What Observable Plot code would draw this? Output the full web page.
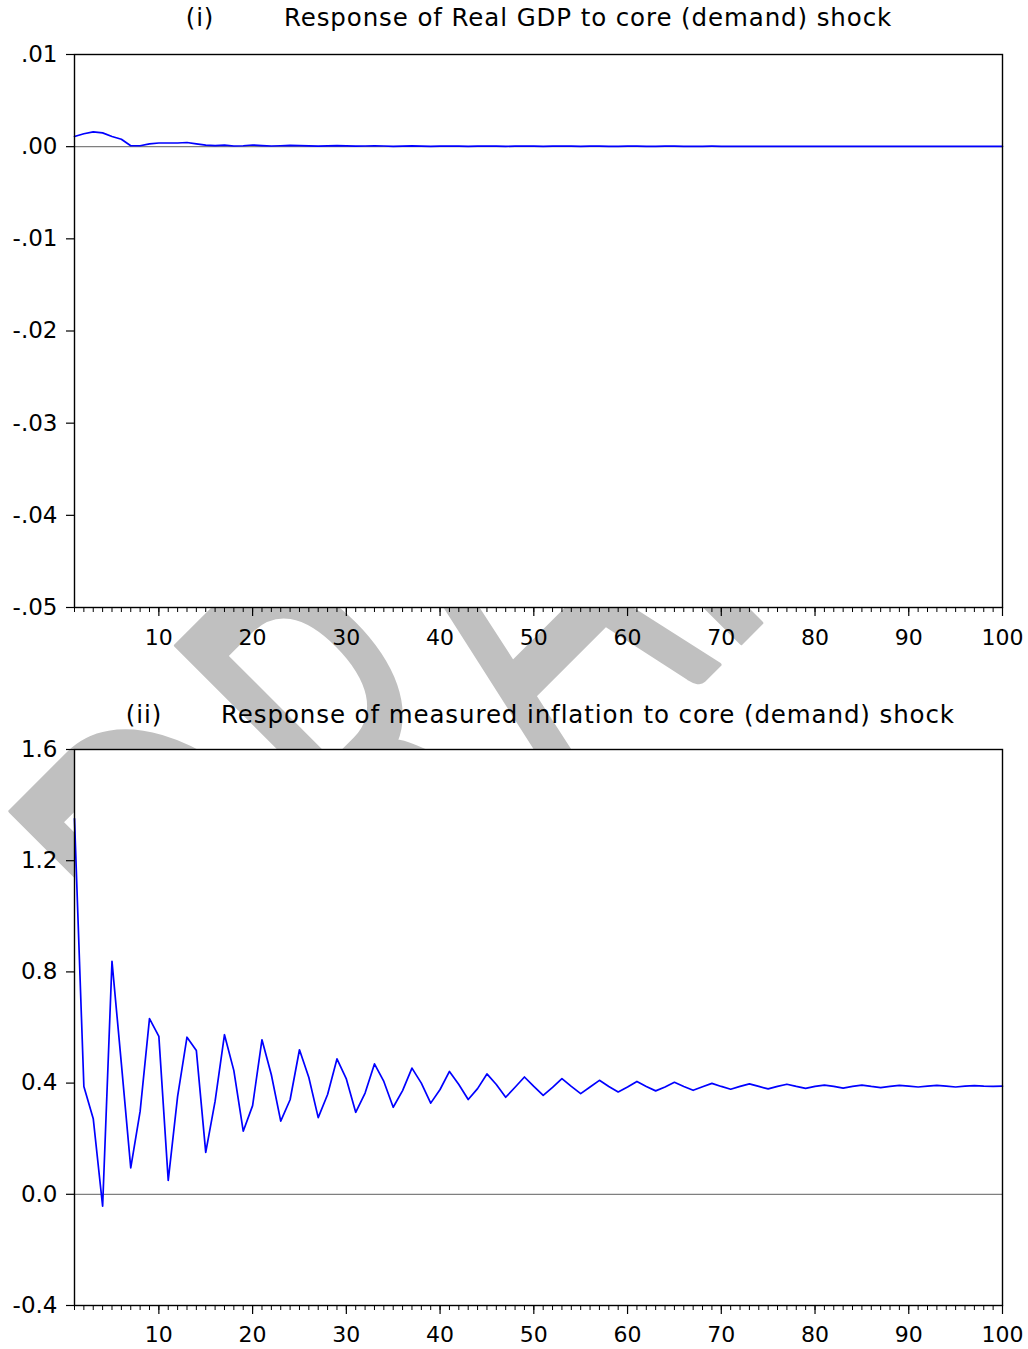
<!DOCTYPE html>
<html>
<head>
<meta charset="utf-8">
<script src="https://cdn.jsdelivr.net/npm/d3@7"></script>
<script src="https://cdn.jsdelivr.net/npm/@observablehq/plot@0.6"></script>
<style>
  html, body { margin: 0; padding: 0; background: #fff; }
  #page { position: relative; width: 1028px; height: 1349px; overflow: hidden;
          font-family: "DejaVu Sans", sans-serif; color: #000; }
  #watermark { position: absolute; left: 0; top: 0; z-index: 0; }
  .panel { position: absolute; left: 0; width: 1028px; z-index: 1; }
  .panel svg { display: block; }
  .title { position: absolute; z-index: 2; font-size: 24.5px; letter-spacing: 0.9px; white-space: nowrap;
           transform: translate(-50%, -50%); line-height: 1; }
</style>
</head>
<body>
<div id="page"></div>
<script>
// Horizon of the impulse responses (periods 1..100)
const periods = d3.range(1, 101);

// Response of real GDP to a core (demand) shock
const gdpResponse = [
  0.0011, 0.0014, 0.0016, 0.0015, 0.0011, 0.0008, 0.0001, 0.0001, 0.0003, 0.0004,
  0.0004, 0.0004, 0.00045, 0.0003, 0.00017, 0.00012, 0.00017, 0.00007, 0.00010, 0.00018,
  0.00012, 0.00007, 0.00010, 0.00015, 0.00012, 0.00008, 0.00006, 0.00009, 0.00011, 0.00008,
  0.00005, 0.00007, 0.00009, 0.00007, 0.00004, 0.00006, 0.00008, 0.00006, 0.00004, 0.00005,
  0.00007, 0.00005, 0.00004, 0.00005, 0.00006, 0.00005, 0.00004, 0.00005, 0.00006, 0.00005,
  0.00004, 0.00005, 0.00005, 0.00005, 0.00004, 0.00005, 0.00005, 0.00004, 0.00004, 0.00005,
  0.00005, 0.00004, 0.00004, 0.00005, 0.00005, 0.00004, 0.00004, 0.00004, 0.00005, 0.00004,
  0.00004, 0.00004, 0.00004, 0.00004, 0.00004, 0.00004, 0.00004, 0.00004, 0.00004, 0.00004,
  0.00004, 0.00004, 0.00004, 0.00004, 0.00004, 0.00004, 0.00004, 0.00004, 0.00004, 0.00004,
  0.00004, 0.00004, 0.00004, 0.00004, 0.00004, 0.00004, 0.00004, 0.00004, 0.00004, 0.00004
];

// Response of measured inflation to a core (demand) shock
const inflationResponse = [
  1.351, 0.388, 0.272, -0.043, 0.838, 0.470, 0.095, 0.298, 0.632, 0.568,
  0.050, 0.352, 0.565, 0.517, 0.151, 0.335, 0.574, 0.445, 0.227, 0.319,
  0.556, 0.430, 0.263, 0.340, 0.520, 0.420, 0.276, 0.359, 0.487, 0.415,
  0.295, 0.364, 0.469, 0.406, 0.313, 0.373, 0.454, 0.400, 0.328, 0.377,
  0.442, 0.395, 0.341, 0.380, 0.433, 0.395, 0.349, 0.385, 0.422, 0.388,
  0.356, 0.385, 0.416, 0.388, 0.362, 0.386, 0.410, 0.388, 0.368, 0.386,
  0.406, 0.388, 0.372, 0.386, 0.403, 0.388, 0.374, 0.387, 0.399, 0.388,
  0.378, 0.388, 0.397, 0.388, 0.379, 0.388, 0.396, 0.388, 0.381, 0.388,
  0.393, 0.388, 0.382, 0.388, 0.393, 0.388, 0.384, 0.388, 0.392, 0.389,
  0.386, 0.389, 0.392, 0.389, 0.386, 0.389, 0.391, 0.389, 0.388, 0.389
];

// Axis ticks and their printed labels
const xMajorTicks = [10, 20, 30, 40, 50, 60, 70, 80, 90, 100];
const gdpTicks = [0.01, 0, -0.01, -0.02, -0.03, -0.04, -0.05];
const gdpTickLabels = [".01", ".00", "-.01", "-.02", "-.03", "-.04", "-.05"];
const inflationTicks = [1.6, 1.2, 0.8, 0.4, 0, -0.4];
const inflationTickLabels = ["1.6", "1.2", "0.8", "0.4", "0.0", "-0.4"];

// Panel titles
const panelTitles = [
  { tag: "(i)", text: "Response of Real GDP to core (demand) shock" },
  { tag: "(ii)", text: "Response of measured inflation to core (demand) shock" }
];

const page = document.getElementById("page");
const FONT = '"DejaVu Sans", sans-serif';

// Background "DRAFT" stamp, sitting behind both panels
const wm = d3.create("svg")
  .attr("id", "watermark")
  .attr("width", 1028).attr("height", 1349);
const wmSize = 555;
wm.append("text")
  .attr("transform", "translate(6,813) rotate(-45) scale(0.555,1)")
  .attr("x", -0.08 * wmSize)
  .attr("y", 0.72 * wmSize)
  .attr("font-family", '"Lato", "DejaVu Sans", sans-serif')
  .attr("font-size", wmSize)
  .attr("fill", "#c0c0c0")
  .attr("stroke", "#c0c0c0")
  .attr("stroke-width", 4)
  .attr("stroke-linejoin", "round")
  .text("DRAFT");
page.appendChild(wm.node());

function panel({values, yDomain, yTicks, yLabels, top, height, marginBottom, labelPad}) {
  const rows = periods.map((p, i) => ({period: p, value: values[i]}));
  const labelOf = new Map(yTicks.map((t, i) => [t, yLabels[i]]));
  const chart = Plot.plot({
    width: 1028,
    height,
    marginTop: 14,
    marginLeft: 74,
    marginRight: 26,
    marginBottom,
    style: {background: "transparent", fontFamily: FONT, fontSize: "22px", color: "#000", overflow: "visible"},
    x: {domain: [1, 100], label: null},
    y: {domain: yDomain, label: null},
    marks: [
      Plot.frame({fill: "white", stroke: "none"}),
      Plot.ruleY([0], {stroke: "#7f7f7f", strokeWidth: 1.2}),
      Plot.line(rows, {x: "period", y: "value", stroke: "#0000ff", strokeWidth: 1.7}),
      Plot.frame({stroke: "#000", strokeWidth: 1.4}),
      Plot.axisX({ticks: periods, tickSize: 5, tickFormat: () => "", label: null, strokeWidth: 1}),
      Plot.axisX({ticks: xMajorTicks, tickSize: 9, tickPadding: labelPad, label: null, fontSize: 22, strokeWidth: 1.2}),
      Plot.axisY({ticks: yTicks, tickSize: 8, tickPadding: 9, label: null, fontSize: 23,
                  tickFormat: (d) => labelOf.get(d), strokeWidth: 1.2})
    ]
  });
  const holder = document.createElement("div");
  holder.className = "panel";
  holder.style.top = top + "px";
  holder.appendChild(chart);
  page.appendChild(holder);
}

function title(t, tagX, textX, y) {
  for (const [s, x] of [[t.tag, tagX], [t.text, textX]]) {
    const el = document.createElement("div");
    el.className = "title";
    el.style.left = x + "px";
    el.style.top = y + "px";
    el.textContent = s;
    page.appendChild(el);
  }
}

panel({values: gdpResponse, yDomain: [-0.05, 0.01], yTicks: gdpTicks, yLabels: gdpTickLabels,
       top: 40, height: 630, marginBottom: 63, labelPad: 13});
panel({values: inflationResponse, yDomain: [-0.4, 1.6], yTicks: inflationTicks, yLabels: inflationTickLabels,
       top: 735, height: 614, marginBottom: 44, labelPad: 12});

title(panelTitles[0], 200, 588, 18);
title(panelTitles[1], 144, 588, 715);
</script>
</body>
</html>
